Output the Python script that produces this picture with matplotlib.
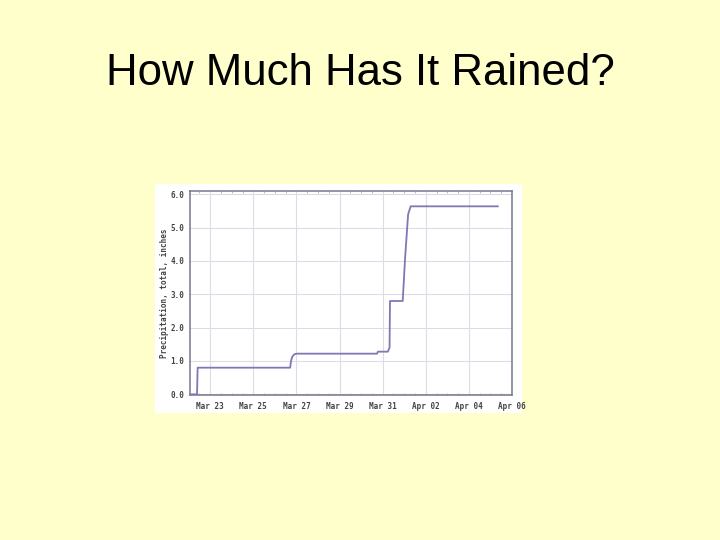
import matplotlib
matplotlib.use("Agg")
import matplotlib.pyplot as plt
import matplotlib.dates as mdates
from matplotlib.patches import Rectangle
import pandas as pd

# ---- data ----
times = ["2008-03-22 01:40", "2008-03-22 09:20", "2008-03-22 10:00",
         "2008-03-26 17:00", "2008-03-26 18:00", "2008-03-26 19:12",
         "2008-03-26 21:36", "2008-03-27 00:00", "2008-03-30 17:45",
         "2008-03-30 18:45", "2008-03-31 05:45", "2008-03-31 07:40",
         "2008-03-31 08:10", "2008-03-31 22:20", "2008-04-01 01:00",
         "2008-04-01 04:20", "2008-04-01 07:12", "2008-04-05 08:10"]
precip = [0.0, 0.0, 0.80,
          0.80, 1.00, 1.12,
          1.20, 1.22, 1.22,
          1.28, 1.28, 1.40,
          2.80, 2.80, 4.10,
          5.40, 5.64, 5.64]
xtick_dates = ["2008-03-23", "2008-03-25", "2008-03-27", "2008-03-29",
               "2008-03-31", "2008-04-02", "2008-04-04", "2008-04-06"]
xtick_labels = ["Mar 23", "Mar 25", "Mar 27", "Mar 29",
                "Mar 31", "Apr 02", "Apr 04", "Apr 06"]
ytick_vals = [0.0, 1.0, 2.0, 3.0, 4.0, 5.0, 6.0]
ytick_labels = ["0.0", "1.0", "2.0", "3.0", "4.0", "5.0", "6.0"]
title = "How Much Has It Rained?"
ylabel = "Precipitation, total, inches"

W, H = 720, 540
fig = plt.figure(figsize=(W / 100, H / 100), dpi=100)
fig.patch.set_facecolor("#FFFFCC")

# white panel behind the chart image
px0, py0, px1, py1 = 155, 184, 522, 413
panel = fig.add_axes([px0 / W, 1 - py1 / H, (px1 - px0) / W, (py1 - py0) / H], zorder=-5)
panel.set_facecolor("white")
panel.set_axis_off()
panel.add_patch(Rectangle((0, 0), 1, 1, transform=panel.transAxes,
                          facecolor="white", edgecolor="none"))

fig.text(0.5, 1 - 85 / H, title, ha="center", va="baseline",
         fontsize=31.5, family="Liberation Sans", color="black")

l, r, t, b = 190, 512, 191, 395
ax = fig.add_axes([l / W, 1 - b / H, (r - l) / W, (b - t) / H], zorder=1)
ax.set_facecolor("white")

x = pd.to_datetime(times)
ax.plot(x, precip, color="#7f78b2", lw=1.3, solid_joinstyle="round", zorder=3)

ax.set_xlim(pd.Timestamp("2008-03-22 01:30"), pd.Timestamp("2008-04-06 00:00"))
ax.set_ylim(-0.02, 6.1)

tfont = dict(family="DejaVu Sans Mono", fontsize=5.5, fontweight="bold", color="#444444")
ax.set_xticks(pd.to_datetime(xtick_dates))
ax.set_xticklabels(xtick_labels, **tfont)
ax.set_yticks(ytick_vals)
ax.set_yticklabels(ytick_labels, **tfont)
ax.xaxis.set_minor_locator(mdates.HourLocator(byhour=[0, 12]))
ax.tick_params(axis="both", which="major", length=0, pad=4)
ax.tick_params(axis="x", which="major", pad=5)
ax.tick_params(axis="x", which="minor", direction="in", length=1.5, top=True,
               bottom=True, color="#a8a8b4", width=0.6)
ax.grid(True, which="major", color="#dcdce8", lw=0.8)
ax.set_axisbelow(True)
for s in ax.spines.values():
    s.set_color("#76768a")
    s.set_linewidth(1.1)

ax.set_ylabel(ylabel, **tfont, labelpad=1)

fig.savefig("out.png", dpi=100, facecolor=fig.get_facecolor())
